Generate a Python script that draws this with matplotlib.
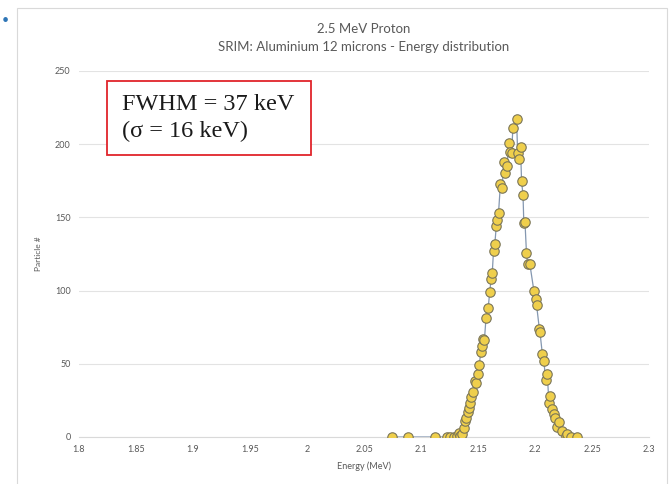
import matplotlib
matplotlib.use("Agg")
import matplotlib.pyplot as plt
from matplotlib.patches import Rectangle

# energy bins (MeV) and particle counts
energy = [2.0744, 2.0890, 2.1125, 2.1228, 2.1257, 2.1286, 2.1316, 2.1330, 2.1345,
          2.1360, 2.1374, 2.1389, 2.1398, 2.1409, 2.1418, 2.1428, 2.1439, 2.1455,
          2.1470, 2.1485, 2.1497, 2.1510, 2.1525, 2.1536, 2.1545, 2.1556, 2.1570,
          2.1589, 2.1603, 2.1615, 2.1625, 2.1636, 2.1648, 2.1660, 2.1670, 2.1680,
          2.1697, 2.1712, 2.1726, 2.1741, 2.1755, 2.1770, 2.1785, 2.1795, 2.1806,
          2.1838, 2.1848, 2.1864, 2.1873, 2.1882, 2.1895, 2.1902, 2.1912, 2.1925,
          2.1935, 2.1955, 2.1990, 2.2005, 2.2014, 2.2038, 2.2043, 2.2064, 2.2078,
          2.2093, 2.2108, 2.2122, 2.2131, 2.2152, 2.2166, 2.2175, 2.2196, 2.2210,
          2.2240, 2.2269, 2.2284, 2.2313, 2.2372]
counts = [0, 0, 0, 0, 0, 0, 1, 3, 1,
          2, 6, 11, 13, 17, 20, 23, 27, 31,
          38, 37, 43, 49, 58, 62, 67, 66, 81,
          88, 99, 108, 112, 127, 132, 144, 148, 153,
          173, 170, 188, 180, 185, 201, 195, 194, 211,
          217, 194, 190, 198, 175, 165, 146, 147, 126,
          118, 118, 100, 94, 90, 74, 72, 57, 52,
          39, 43, 23, 28, 19, 16, 13, 7, 10,
          4, 1, 2, 0, 0]

x_ticks = [1.8, 1.85, 1.9, 1.95, 2.0, 2.05, 2.1, 2.15, 2.2, 2.25, 2.3]
x_tick_labels = ["1.8", "1.85", "1.9", "1.95", "2", "2.05", "2.1", "2.15", "2.2", "2.25", "2.3"]
y_ticks = [0, 50, 100, 150, 200, 250]

title = "2.5 MeV Proton\nSRIM: Aluminium 12 microns - Energy distribution"
note_lines = ["FWHM = 37 keV", "(\u03c3 = 16 keV)"]

grey_txt = "#595959"
plt.rcParams['font.family'] = ['Lato', 'DejaVu Sans']

W, H = 671, 484
fig = plt.figure(figsize=(W / 100, H / 100), dpi=100)

def fx(px):
    return px / W

def fy(py):
    return 1 - py / H

# outer chart frame and slide bullet
fig.patches.append(Rectangle((fx(17), -0.01), fx(650), fy(8) + 0.01,
                             transform=fig.transFigure, fill=False,
                             edgecolor="#d9d9d9", lw=0.8))
fig.text(fx(5), fy(20), "\u2022", color="#2e75b6", fontsize=9,
         ha="center", va="center")

ax = fig.add_axes([fx(79), fy(437), fx(570), 366 / H])

ax.plot(energy, counts, color="#8497b0", lw=0.9, zorder=2,
        marker="o", markersize=6.8, markerfacecolor="#efcf4c",
        markeredgecolor="#7a7558", markeredgewidth=0.8)

ax.set_xlim(1.8, 2.3)
ax.set_ylim(0, 250)
ax.set_xticks(x_ticks)
ax.set_xticklabels(x_tick_labels)
ax.set_yticks(y_ticks)
ax.tick_params(length=0, labelsize=6.5, labelcolor=grey_txt, pad=6)
ax.grid(axis="y", color="#e3e3e3", lw=0.8)
ax.set_axisbelow(True)
for s in ["top", "right", "left"]:
    ax.spines[s].set_visible(False)
ax.spines["bottom"].set_color("#d9d9d9")
ax.spines["bottom"].set_zorder(1)

ax.set_xlabel("Energy (MeV)", fontsize=6.5, color=grey_txt, labelpad=5)
ax.set_ylabel("Particle #", fontsize=6, color=grey_txt, labelpad=9)

fig.text(fx(364), fy(38), title, ha="center", va="center",
         fontsize=9.5, color=grey_txt, linespacing=1.55)

# annotation box
fig.patches.append(Rectangle((fx(107), fy(155)), fx(204), 74 / H,
                             transform=fig.transFigure, facecolor="white",
                             edgecolor="#e0242b", lw=1.3, zorder=5))
for i, line in enumerate(note_lines):
    fig.text(fx(122), fy(104 + 27 * i), line, ha="left", va="center",
             fontsize=17.5, family=["Liberation Serif"], color="#1a1a1a",
             zorder=6)

fig.savefig("out.png", dpi=100)
